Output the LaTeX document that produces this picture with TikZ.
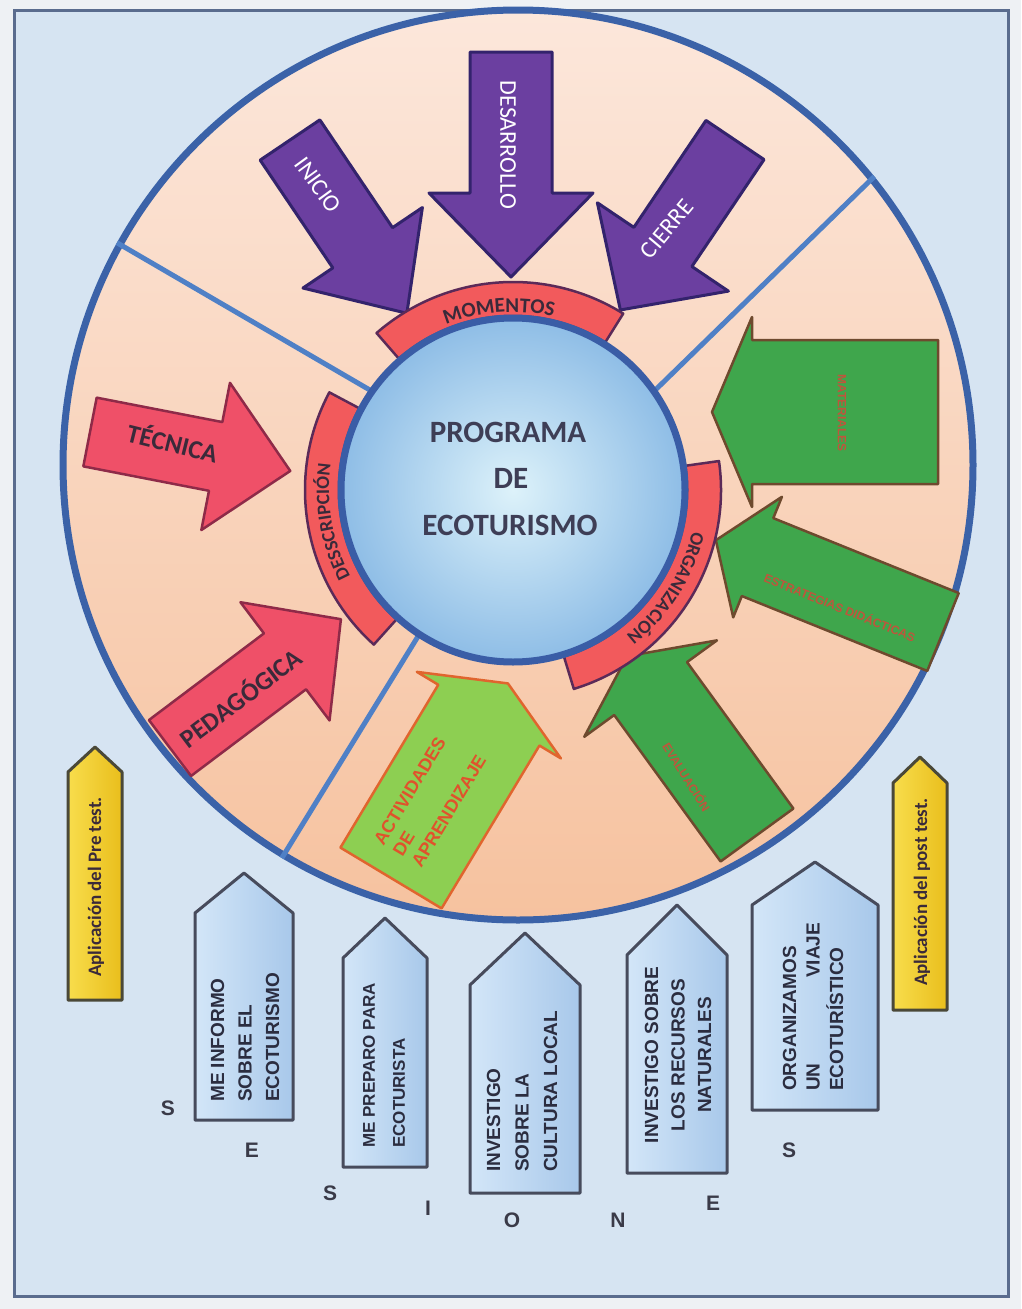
\documentclass[tikz,border=0pt]{standalone}
\usepackage{fontspec}
\setmainfont{Liberation Sans}
\newfontfamily\calfont{Carlito}
\newfontfamily\arfont{Liberation Sans}
\usetikzlibrary{decorations.text}
\definecolor{pagebg}{HTML}{EEF1F4}
\definecolor{framebg}{HTML}{D6E4F2}
\definecolor{frameline}{HTML}{5A6C8E}
\definecolor{peachtop}{HTML}{FCE7DB}
\definecolor{peachbot}{HTML}{F6C29F}
\definecolor{ringblue}{HTML}{3B62A8}
\definecolor{divblue}{HTML}{4F80C6}
\definecolor{innerc}{HTML}{DDF2FA}
\definecolor{outerc}{HTML}{8EBDE6}
\definecolor{innerline}{HTML}{3A5DA6}
\definecolor{purplefill}{HTML}{6B3FA0}
\definecolor{purpleline}{HTML}{33236C}
\definecolor{redfill}{HTML}{EF5068}
\definecolor{redline}{HTML}{8E2A48}
\definecolor{bandfill}{HTML}{F25A5C}
\definecolor{bandline}{HTML}{5B2A58}
\definecolor{darktext}{HTML}{3A2A3A}
\definecolor{greenfill}{HTML}{3FA64C}
\definecolor{greenline}{HTML}{6E4A2E}
\definecolor{greentext}{HTML}{C0553C}
\definecolor{lgreenfill}{HTML}{8DCF52}
\definecolor{lgreenline}{HTML}{E0652E}
\definecolor{acttext}{HTML}{E0522C}
\definecolor{tagleft}{HTML}{D3E6F8}
\definecolor{tagright}{HTML}{A8C8EA}
\definecolor{tagline}{HTML}{474B5C}
\definecolor{tagtext}{HTML}{2B2D40}
\definecolor{yelleft}{HTML}{F8DD4C}
\definecolor{yelright}{HTML}{E9BE1C}
\definecolor{yelline}{HTML}{4A4838}
\definecolor{centertext}{HTML}{3E3E56}
\definecolor{lettertext}{HTML}{3A3A48}
% #1 style, #2 tail, #3 angle, #4 length, #5 shaft half, #6 head half, #7 head length
\newcommand{\blockarrow}[7]{%
  \begin{scope}[shift={#2}, rotate=#3]
    \path[#1] (0,-#5) -- ({#4-#7},-#5) -- ({#4-#7},-#6) -- (#4,0) -- ({#4-#7},#6) -- ({#4-#7},#5) -- (0,#5) -- cycle;
  \end{scope}}
% #1 style, #2 L, #3 R, #4 peak, #5 shoulder, #6 bottom
\newcommand{\tagpath}[6]{\path[#1] (#2,#6) -- (#2,#5) -- ({(#2+#3)/2},#4) -- (#3,#5) -- (#3,#6) -- cycle;}
\newcommand{\bandarc}[2]{\path[bandstyle] ([shift={(#1:208)}]ic) arc[start angle=#1, end angle=#2, radius=208] -- ([shift={(#2:174)}]ic) arc[start angle=#2, end angle=#1, radius=174] -- cycle;}
\newcommand{\arcfont}{\calfont\bfseries\fontsize{19}{19}\selectfont}
\newcommand{\momfont}{\calfont\bfseries\fontsize{21}{21}\selectfont}
\begin{document}
\begin{tikzpicture}[x=1pt,y=-1pt,
  purplearrow/.style={fill=purplefill, draw=purpleline, line width=3pt, line join=round},
  redarrow/.style={fill=redfill, draw=redline, line width=2.5pt, line join=round},
  greenarrow/.style={fill=greenfill, draw=greenline, line width=2.5pt, line join=round},
  actarrow/.style={fill=lgreenfill, draw=lgreenline, line width=2.5pt, line join=round},
  bandstyle/.style={fill=bandfill, draw=bandline, line width=2.5pt, line join=round},
  bluetag/.style={left color=tagleft, right color=tagright, draw=tagline, line width=3pt, line join=round},
  yellowtag/.style={left color=yelleft, right color=yelright, draw=yelline, line width=3pt, line join=round},
  divider/.style={draw=divblue, line width=5pt},
  purpletext/.style={text=white, font=\calfont\fontsize{24}{24}\selectfont, inner sep=0},
  redtext/.style={text=darktext, font=\calfont\bfseries\fontsize{26}{26}\selectfont, inner sep=0},
  centerlabel/.style={text=centertext, font=\calfont\bfseries\fontsize{31}{31}\selectfont, inner sep=0},
  greenlabel/.style={text=greentext, font=\arfont\bfseries\fontsize{12}{12}\selectfont, inner sep=0},
  tagtxt/.style={text=tagtext, rotate=90, inner sep=0, align=left},
  yeltxt/.style={text=darktext, font=\calfont\bfseries\fontsize{19}{19}\selectfont, rotate=90, inner sep=0},
  letter/.style={text=lettertext, font=\arfont\bfseries\fontsize{21}{21}\selectfont, inner sep=0}
]
\useasboundingbox (0,0) rectangle (1021,1309);
\fill[pagebg] (0,0) rectangle (1021,1309);
\path[fill=framebg, draw=frameline, line width=3pt] (14,10) rectangle (1008,1296);

% big circle
\node[circle, minimum size=910pt, inner sep=0, top color=peachtop, bottom color=peachbot, draw=ringblue, line width=7pt] (big) at (518,465) {};
\coordinate (ic) at (513,490);
\node[circle, minimum size=344pt, inner sep=0] (innerref) at (ic) {};

% dividers
\draw[divider] (big.151) -- (innerref.145);
\draw[divider] (big.39) -- (innerref.35);
\draw[divider] (big.239) -- (innerref.237);

% purple arrows
\blockarrow{purplearrow}{(511,52)}{-90}{225}{41}{82}{84}
\blockarrow{purplearrow}{(290,140)}{-56}{209}{36}{72}{79}
\blockarrow{purplearrow}{(735,140)}{-124}{205}{35}{79}{76}
% red arrows
\blockarrow{redarrow}{(90,432)}{-11}{204}{35}{75}{76}
\blockarrow{redarrow}{(170,748)}{37}{214}{35}{74}{70}
% green arrows
\blockarrow{greenarrow}{(938,412)}{180}{226}{72}{95}{40}
\blockarrow{greenarrow}{(943,632)}{158}{245}{42}{65}{45}
\blockarrow{greenarrow}{(757,835)}{126}{221}{45}{82}{40}
\blockarrow{actarrow}{(391,878)}{59}{227}{59}{84}{37}

% bands
\bandarc{-58}{-131}
\bandarc{-152}{-228}
\bandarc{-8}{73}

% inner circle
\node[circle, minimum size=344pt, inner sep=0, inner color=innerc, outer color=outerc, draw=innerline, line width=7pt] (inner) at (ic) {};

% band texts
\path[decorate, decoration={text along path, text align=center, text color=darktext, text={|\momfont|MOMENTOS}}] ([shift={(-131:178)}]ic) arc[start angle=-131, end angle=-58, radius=178];
\path[decorate, decoration={text along path, text align=center, text color=darktext, text={|\arcfont|DESSCRIPCIÓN}}] ([shift={(-228:184)}]ic) arc[start angle=-228, end angle=-152, radius=184];
\path[decorate, decoration={text along path, text align=center, text color=darktext, text={|\arcfont|ORGANIZACIÓN}}] ([shift={(-8:184)}]ic) arc[start angle=-8, end angle=73, radius=184];

% center text
\node[centerlabel] (prog) at (508,432) {PROGRAMA};
\node[centerlabel] (de) at (511,478) {DE};
\node[centerlabel] (eco) at (510,525) {ECOTURISMO};

% arrow texts
\node[purpletext, rotate=-90] (desarrollo) at (508,145) {DESARROLLO};
\node[purpletext, rotate=-54] (inicio) at (318,185) {INICIO};
\node[purpletext, rotate=50] (cierre) at (667,229) {CIERRE};
\node[redtext, rotate=-14] (tecnica) at (173,442) {TÉCNICA};
\node[redtext, rotate=37] (pedagogica) at (240,697) {PEDAGÓGICA};
\node[greenlabel, rotate=-90] (g1txt) at (842,413) {MATERIALES};
\node[greenlabel, rotate=-22] (g2txt) at (840,607) {ESTRATEGIAS DIDÁCTICAS};
\node[greenlabel, rotate=-58] (g3txt) at (687,777) {EVALUACIÓN};
\node[text=acttext, font=\arfont\bfseries\fontsize{18}{22}\selectfont, rotate=59, align=left, inner sep=0] (act) at (430,800) {ACTIVIDADES\\DE\\APRENDIZAJE};

% yellow tags
\tagpath{yellowtag}{68}{122}{747}{772}{1000}
\node[yeltxt] (pre) at (96,887) {Aplicación del Pre test.};
\tagpath{yellowtag}{893}{947}{757}{783}{1010}
\node[yeltxt] (post) at (922,892) {Aplicación del post test.};

% blue tags
\tagpath{bluetag}{195}{293}{873}{913}{1120}
\node[tagtxt, anchor=west, font=\arfont\bfseries\fontsize{19}{27.5}\selectfont] (s1) at (245,1102) {ME INFORMO\\SOBRE EL\\ECOTURISMO};
\tagpath{bluetag}{343}{427}{918}{958}{1167}
\node[tagtxt, anchor=west, font=\arfont\bfseries\fontsize{17}{30}\selectfont] (s2) at (384,1148) {ME PREPARO PARA\\ECOTURISTA};
\tagpath{bluetag}{470}{580}{933}{985}{1193}
\node[tagtxt, anchor=west, font=\arfont\bfseries\fontsize{19}{28.5}\selectfont] (s3) at (522,1172) {INVESTIGO\\SOBRE LA\\CULTURA LOCAL};
\tagpath{bluetag}{627}{727}{905}{955}{1173}
\node[tagtxt, align=center, font=\arfont\bfseries\fontsize{19}{26.5}\selectfont] (s4) at (678,1055) {INVESTIGO SOBRE\\LOS RECURSOS\\NATURALES};
\tagpath{bluetag}{752}{878}{862}{905}{1110}
\node[tagtxt, anchor=west, text width=168pt, font=\arfont\bfseries\fontsize{19}{23.5}\selectfont] (s5) at (813,1091) {ORGANIZAMOS\\UN\hfill VIAJE\\ECOTURÍSTICO};

% SESIONES letters
\node[letter] (l1) at (168,1108) {S};
\node[letter] (l2) at (252,1150) {E};
\node[letter] (l3) at (330,1193) {S};
\node[letter] (l4) at (428,1208) {I};
\node[letter] (l5) at (512,1220) {O};
\node[letter] (l6) at (618,1220) {N};
\node[letter] (l7) at (713,1203) {E};
\node[letter] (l8) at (789,1150) {S};
\end{tikzpicture}
\end{document}
